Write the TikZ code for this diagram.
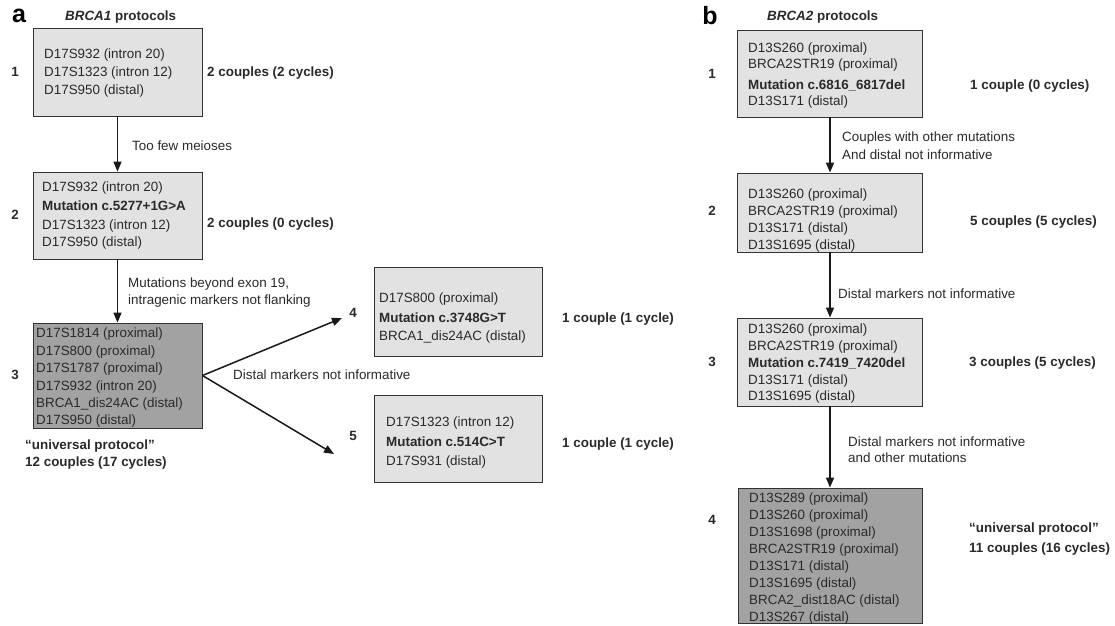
\documentclass[tikz,border=0pt]{standalone}
\usepackage{fontspec}
\setmainfont{Liberation Sans}
\usetikzlibrary{arrows.meta}
\definecolor{txtc}{HTML}{2A2A2A}
\definecolor{lightfill}{HTML}{E2E2E2}
\definecolor{darkfill}{HTML}{A2A2A2}
\definecolor{edgec}{HTML}{333333}
\tikzset{
  lbox/.style={draw=edgec, line width=0.9pt, fill=lightfill, inner sep=0pt},
  dbox/.style={draw=edgec, line width=0.9pt, fill=darkfill, inner sep=0pt},
  lines/.style={anchor=north west, inner sep=0pt, align=left, text=txtc,
    font=\fontsize{13.4}{#1}\selectfont},
  lab/.style={anchor=west, inner sep=0pt, text=txtc, text height=9.6pt, text depth=0pt,
    font=\fontsize{13.4}{15}\selectfont},
  blab/.style={lab, font=\fontsize{13.4}{15}\selectfont\bfseries},
  num/.style={inner sep=0pt, text=txtc, text height=9.6pt, text depth=0pt,
    font=\fontsize{13.4}{15}\selectfont\bfseries},
  panel/.style={inner sep=0pt, text=black, font=\fontsize{25}{28}\selectfont\bfseries},
  arr/.style={draw=black!90, line width=1.5pt, -{Triangle[length=10pt,width=8pt]}}
}
\begin{document}
\begin{tikzpicture}[x=1pt,y=-1pt]
\useasboundingbox (0,0) rectangle (1115,625);
\fill[white] (0,0) rectangle (1115,625);

% ---------- panel a ----------
\node[panel] (pa) at (19,16) {a};
\node[blab] (ta) at (65,16) {\itshape BRCA1\upshape\ protocols};

\node[lbox, minimum width=169pt, minimum height=88pt] (a1) at (117.5,72) {};
\node[lines=18pt] (a1t) at (44,49) {D17S932 (intron 20)\\D17S1323 (intron 12)\\D17S950 (distal)};
\node[num] (n1) at (15,72) {1};
\node[blab] (c1) at (207,72) {2 couples (2 cycles)};

\node[lbox, minimum width=169pt, minimum height=87pt] (a2) at (117.5,215.5) {};
\node[lines=17pt] (a2t) at (42,182) {D17S932 (intron 20)\\[2pt]\textbf{Mutation c.5277+1G>A}\\[2pt]D17S1323 (intron 12)\\D17S950 (distal)};
\node[num] (n2) at (15,215) {2};
\node[blab] (c2) at (207,223) {2 couples (0 cycles)};

\node[dbox, minimum width=169pt, minimum height=105pt] (a3) at (117.5,375.5) {};
\node[lines=17.4pt] (a3t) at (36,328) {D17S1814 (proximal)\\D17S800 (proximal)\\D17S1787 (proximal)\\D17S932 (intron 20)\\BRCA1\_dis24AC (distal)\\D17S950 (distal)};
\node[num] (n3) at (15,375) {3};
\node[blab] (u3) at (25,445) {“universal protocol”};
\node[blab] (c3) at (25,462) {12 couples (17 cycles)};

\node[lbox, minimum width=168pt, minimum height=89pt] (a4) at (458,311.5) {};
\node[lines=18pt] (a4t) at (379,293) {D17S800 (proximal)\\[2pt]\textbf{Mutation c.3748G>T}\\BRCA1\_dis24AC (distal)};
\node[num] (n4) at (353,313) {4};
\node[blab] (c4) at (562,318) {1 couple (1 cycle)};

\node[lbox, minimum width=168pt, minimum height=87pt] (a5) at (458,438.5) {};
\node[lines=19pt] (a5t) at (386,417) {D17S1323 (intron 12)\\[1pt]\textbf{Mutation c.514C>T}\\D17S931 (distal)};
\node[num] (n5) at (353,436) {5};
\node[blab] (c5) at (562,443) {1 couple (1 cycle)};

\draw[arr] (a1.south) -- (a2.north);
\node[lab] (l1) at (132,146) {Too few meioses};
\draw[arr] (a2.south) -- (a3.north);
\node[lab] (l2a) at (128,283) {Mutations beyond exon 19,};
\node[lab] (l2b) at (128,300) {intragenic markers not flanking};

\coordinate (t4) at (342,318);
\coordinate (t5) at (334,454);
\draw[arr] (a3.east) -- (t4);
\draw[arr] (a3.east) -- (t5);
\node[lab] (l3) at (233,375) {Distal markers not informative};

% ---------- panel b ----------
\node[panel] (pb) at (710,16) {b};
\node[blab] (tb) at (767,16) {\itshape BRCA2\upshape\ protocols};

\node[lbox, minimum width=185pt, minimum height=87pt] (b1) at (830,73.5) {};
\node[lines=16pt] (b1t) at (748,43) {D13S260 (proximal)\\BRCA2STR19 (proximal)\\[5pt]\textbf{Mutation c.6816\_6817del}\\D13S171 (distal)};
\node[num] (m1) at (712,74) {1};
\node[blab] (d1) at (970,85) {1 couple (0 cycles)};

\node[lbox, minimum width=185pt, minimum height=79pt] (b2) at (830,212.5) {};
\node[lines=17pt] (b2t) at (748,189) {D13S260 (proximal)\\BRCA2STR19 (proximal)\\D13S171 (distal)\\D13S1695 (distal)};
\node[num] (m2) at (712,211) {2};
\node[blab] (d2) at (970,221) {5 couples (5 cycles)};

\node[lbox, minimum width=185pt, minimum height=88pt] (b3) at (830,362) {};
\node[lines=16.75pt] (b3t) at (748,324) {D13S260 (proximal)\\BRCA2STR19 (proximal)\\\textbf{Mutation c.7419\_7420del}\\D13S171 (distal)\\D13S1695 (distal)};
\node[num] (m3) at (712,362) {3};
\node[blab] (d3) at (969,362) {3 couples (5 cycles)};

\node[dbox, minimum width=184pt, minimum height=135pt] (b4) at (830,555.5) {};
\node[lines=17pt] (b4t) at (749,493) {D13S289 (proximal)\\D13S260 (proximal)\\D13S1698 (proximal)\\BRCA2STR19 (proximal)\\D13S171 (distal)\\D13S1695 (distal)\\BRCA2\_dist18AC (distal)\\D13S267 (distal)};
\node[num] (m4) at (712,520) {4};
\node[blab] (u4) at (969,528) {“universal protocol”};
\node[blab] (d4) at (969,548) {11 couples (16 cycles)};

\draw[arr] (b1.south) -- (b2.north);
\node[lab] (k1a) at (842,137) {Couples with other mutations};
\node[lab] (k1b) at (842,155) {And distal not informative};
\draw[arr] (b2.south) -- (b3.north);
\node[lab] (k2) at (838,294) {Distal markers not informative};
\draw[arr] (b3.south) -- (b4.north);
\node[lab] (k3a) at (848,442) {Distal markers not informative};
\node[lab] (k3b) at (848,458) {and other mutations};
\end{tikzpicture}
\end{document}
